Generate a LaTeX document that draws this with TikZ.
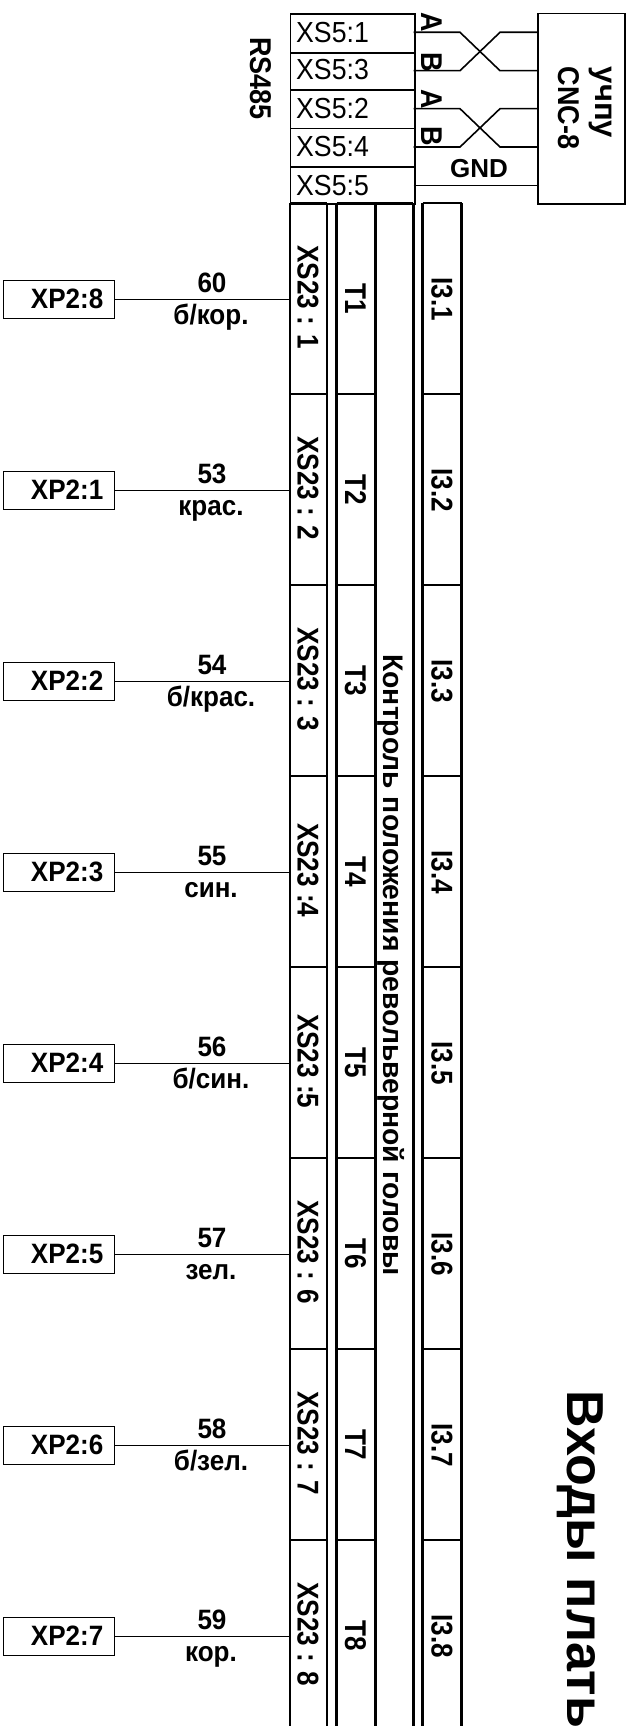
\documentclass[tikz,border=0pt]{standalone}
\usepackage{fontspec}
\setmainfont{Liberation Sans}
\newcommand{\hs}[2]{\scalebox{#1}[1]{#2}}
\tikzset{
  x=1pt,y=-1pt,
  wire/.style={line width=1.6pt},
  box/.style={draw,line width=1.8pt,minimum width=0pt,inner sep=0pt},
  thinbox/.style={draw,line width=1.5pt,minimum width=0pt,inner sep=0pt},
  heavy/.style={line width=2.8pt},
  bd/.style={font=\bfseries\fontsize{28}{28}\selectfont,inner sep=0pt},
  bv/.style={font=\bfseries\fontsize{30}{30}\selectfont,inner sep=0pt,rotate=-90,anchor=base},
  rg/.style={font=\fontsize{29}{29}\selectfont,inner sep=0pt},
}
\begin{document}
\begin{tikzpicture}
\useasboundingbox (0,0) rectangle (635,1726);
\fill[white] (0,0) rectangle (635,1726);
% XS5 stack
\foreach \ya/\yb/\t/\bl in {13/52/1/42.7,52/89.5/3/80,89.5/127.7/2/118.3,127.7/165.7/4/156.7,165.7/203/5/195}{
  \node[box,anchor=north west,minimum width=124.2pt,minimum height={(\yb-\ya)*1pt}] (xs5\t) at (289.5,\ya) {};
  \node[rg,anchor=base west] (lab\t) at (296,\bl) {\hs{.92}{XS5:\t}};
}
% CNC box
\node[thinbox,anchor=north west,minimum width=86.7pt,minimum height=190pt] (cnc) at (537.3,13) {};
\node[bv,font=\bfseries\fontsize{31}{31}\selectfont] (cnctxt1) at (595,102.5) {учпу};
\node[bv] (cnctxt2) at (558.3,108) {\hs{.9}{CNC-8}};
\node[bv] (rs) at (250,78.5) {\hs{.9}{RS485}};
% twisted pairs
\coordinate (c1) at (460,32.3); \coordinate (c2) at (500,70.7);
\coordinate (c3) at (460,70.7); \coordinate (c4) at (500,32.3);
\coordinate (d1) at (460,108.7); \coordinate (d2) at (500,147);
\coordinate (d3) at (460,147); \coordinate (d4) at (500,108.7);
\draw[wire] (413.7,32.3) -- (c1) -- (c2) -- (537.3,70.7);
\draw[wire] (413.7,70.7) -- (c3) -- (c4) -- (537.3,32.3);
\draw[wire] (413.7,108.7) -- (d1) -- (d2) -- (537.3,147);
\draw[wire] (413.7,147) -- (d3) -- (d4) -- (537.3,108.7);
\draw[wire] (413.7,185.3) -- (537.3,185.3);
\node[bv] (a1) at (421.7,22.5) {\hs{.9}{A}};
\node[bv] (b1) at (421.7,62.5) {\hs{.9}{B}};
\node[bv] (a2) at (421.7,99.5) {\hs{.9}{A}};
\node[bv] (b2) at (421.7,136.5) {\hs{.9}{B}};
\node[bd,font=\bfseries\fontsize{26}{26}\selectfont] (gnd) at (479,168.5) {GND};
% columns
\foreach \xa/\xb in {290/327,336.7/375.7,422.7/461.7}{
  \foreach \k in {0,...,7}{
    \pgfmathsetmacro{\yt}{203+\k*191}
    \draw[heavy] (\xa,\yt) -- (\xb,\yt);
  }
  \draw[heavy] (\xa,203) -- (\xa,1730);
  \draw[heavy] (\xb,203) -- (\xb,1730);
}
\draw[heavy] (413.3,203) -- (413.3,1730);
\draw[heavy] (375.7,203) -- (413.3,203);
% rows
\foreach \k/\xs/\tn/\xp/\wn/\wc in {%
  0/XS23 : 1/T1/8/60/б\slash кор.,
  1/XS23 : 2/T2/1/53/крас.,
  2/XS23 : 3/T3/2/54/б\slash крас.,
  3/XS23 :4/T4/3/55/син.,
  4/XS23 :5/T5/4/56/б\slash син.,
  5/XS23 : 6/T6/5/57/зел.,
  6/XS23 : 7/T7/6/58/б\slash зел.,
  7/XS23 : 8/T8/7/59/кор.}{
  \pgfmathsetmacro{\yw}{299.3+\k*191}
  \pgfmathtruncatemacro{\idx}{\k+1}
  \node[thinbox,anchor=west,minimum width=110.8pt,minimum height=38pt] (xp\idx) at (2.7,\yw) {};
  \node[bd,anchor=base east] (xpt\idx) at (103.5,\yw+9) {\hs{.93}{XP2:\xp}};
  \coordinate (col\idx) at (290,\yw);
  \draw[wire] (xp\idx.east) -- (col\idx);
  \node[bd,anchor=base] (wn\idx) at (212,\yw-6.6) {\hs{.93}{\wn}};
  \node[bd,anchor=base] (wc\idx) at (211,\yw+24.7) {\hs{.93}{\wc}};
  \node[bv] (xs\idx) at (297.7,\yw-2) {\hs{.87}{\xs}};
  \node[bv] (t\idx) at (345,\yw-1) {\hs{.87}{\tn}};
  \node[bv] (i\idx) at (431.7,\yw) {\hs{.87}{I3.\idx}};
}
\node[bv,font=\bfseries\fontsize{28.3}{28.3}\selectfont] (ctl) at (383,965) {Контроль положения револьверной головы};
\node[font=\bfseries\fontsize{52}{52}\selectfont,rotate=-90,anchor=base west,inner sep=0pt] (title) at (567,1390) {Входы плать};
\end{tikzpicture}
\end{document}
